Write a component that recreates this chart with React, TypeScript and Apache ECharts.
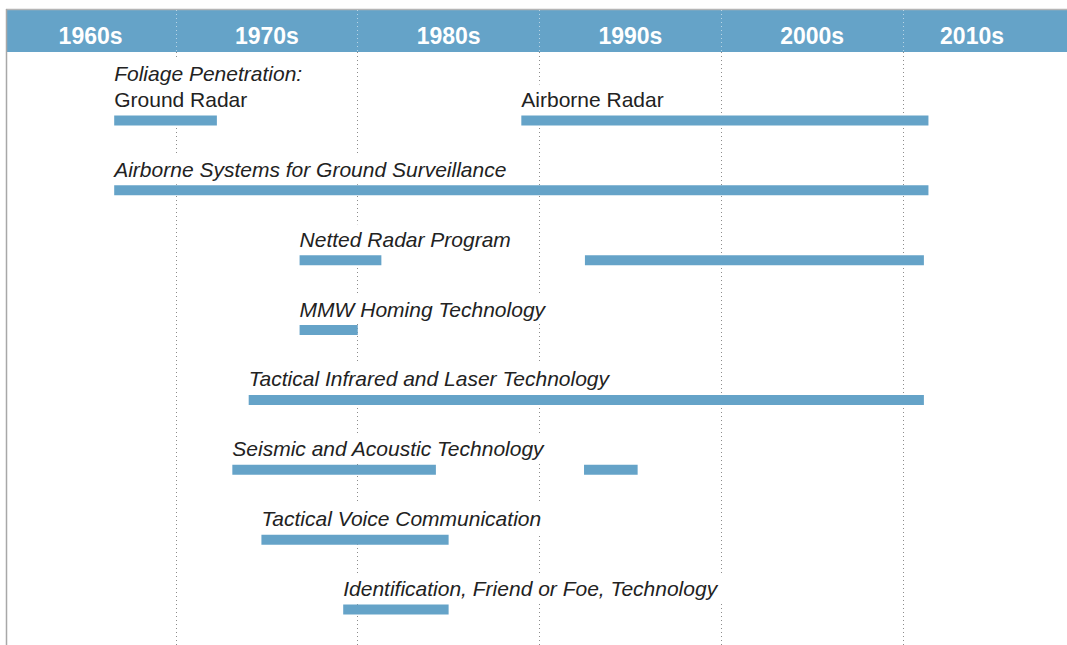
import React, { useEffect, useRef } from 'react';
import * as echarts from 'echarts';

const BLUE = '#65a3c8';
const FONT = '"Liberation Sans", Arial, Helvetica, sans-serif';

const decadeLabels = ['1960s', '1970s', '1980s', '1990s', '2000s', '2010s'];
const decadeLabelPos = [1965.3, 1975, 1985, 1995, 2005, 2013.8];

const rowNames = [
  'Foliage Penetration',
  'Airborne Systems for Ground Surveillance',
  'Netted Radar Program',
  'MMW Homing Technology',
  'Tactical Infrared and Laser Technology',
  'Seismic and Acoustic Technology',
  'Tactical Voice Communication',
  'Identification, Friend or Foe, Technology',
];

const segRow = [0, 0, 1, 2, 2, 3, 4, 5, 5, 6, 7];
const segStart = [1966.6, 1989.0, 1966.6, 1976.8, 1992.5, 1976.8, 1974.0, 1973.1, 1992.45, 1974.7, 1979.2];
const segEnd = [1972.25, 2011.4, 2011.4, 1981.3, 2011.15, 1980.0, 2011.15, 1984.3, 1995.4, 1985.0, 1985.0];
const segHeading = ['Foliage Penetration:', '', '', '', '', '', '', '', '', '', ''];
const segLabel = [
  'Ground Radar',
  'Airborne Radar',
  'Airborne Systems for Ground Surveillance',
  'Netted Radar Program',
  '',
  'MMW Homing Technology',
  'Tactical Infrared and Laser Technology',
  'Seismic and Acoustic Technology',
  '',
  'Tactical Voice Communication',
  'Identification, Friend or Foe, Technology',
];
const segItalic = [false, false, true, true, false, true, true, true, false, true, true];

const X_MIN = 1960;
const X_MAX = 2020;

export default function App() {
  const ref = useRef<HTMLDivElement>(null);

  useEffect(() => {
    if (!ref.current) return;
    const chart = echarts.init(ref.current, undefined, { renderer: 'svg' });

    const data = segStart.map((s, i) => [s, segEnd[i], segRow[i]]);
    const richStyles = {
      it: { font: `italic 21px ${FONT}`, fill: '#222', lineHeight: 26 },
      rm: { font: `normal 21px ${FONT}`, fill: '#222', lineHeight: 26 },
    };

    const gridLeft = -5.76;
    const gridRight = -17.75;
    const gridBase = { left: gridLeft, right: gridRight, outerBoundsMode: 'none', containLabel: false };

    const option: any = {
      animation: false,
      graphic: {
        elements: [
          { type: 'rect', z: -1, silent: true, shape: { x: 7, y: 10, width: 1060, height: 42 }, style: { fill: BLUE } },
          { type: 'line', silent: true, shape: { x1: 6, y1: 9.5, x2: 1067, y2: 9.5 }, style: { stroke: '#b5b5b5', lineWidth: 1.5 } },
          { type: 'line', silent: true, shape: { x1: 6.5, y1: 9, x2: 6.5, y2: 645 }, style: { stroke: '#a8a8a8', lineWidth: 1.5 } },
        ],
      },
      grid: [
        { ...gridBase, top: 52, bottom: 0 },
        { ...gridBase, top: 10, height: 42 },
        { ...gridBase, top: 85.5, bottom: 0.5 },
      ],
      xAxis: [
        {
          gridIndex: 0,
          type: 'value',
          min: X_MIN,
          max: X_MAX,
          interval: 10,
          position: 'top',
          axisLine: { show: false },
          axisTick: { show: false },
          axisLabel: {
            customValues: decadeLabelPos,
            formatter: (v: number) => {
              const idx = decadeLabelPos.indexOf(v);
              return idx >= 0 ? decadeLabels[idx] : '';
            },
            color: '#fff',
            fontWeight: 'bold',
            fontSize: 23,
            fontFamily: FONT,
            margin: 5,
          },
          splitLine: { show: true, lineStyle: { color: '#8c8c8c', type: [1, 3], width: 1 } },
        },
        {
          gridIndex: 1,
          type: 'value',
          min: X_MIN,
          max: X_MAX,
          interval: 10,
          z: 5,
          axisLine: { show: false },
          axisTick: { show: false },
          axisLabel: { show: false },
          splitLine: { show: true, lineStyle: { color: 'rgba(255,255,255,0.55)', type: [1, 3], width: 1 } },
        },
        { gridIndex: 2, type: 'value', min: X_MIN, max: X_MAX, show: false },
      ],
      yAxis: [
        { gridIndex: 0, type: 'value', show: false },
        { gridIndex: 1, type: 'value', show: false },
        { gridIndex: 2, type: 'category', data: rowNames, inverse: true, show: false },
      ],
      series: [
        {
          type: 'custom',
          xAxisIndex: 2,
          yAxisIndex: 2,
          data,
          encode: { x: [0, 1], y: 2 },
          renderItem: (params: any, api: any) => {
            const i = params.dataIndex;
            const p0 = api.coord([api.value(0), api.value(2)]);
            const p1 = api.coord([api.value(1), api.value(2)]);
            const h = 10;
            const top = p0[1] - h / 2;
            const children: any[] = [];
            if (segLabel[i]) {
              let txt = '';
              if (segHeading[i]) txt += `{it|${segHeading[i]}}\n`;
              txt += `{${segItalic[i] ? 'it' : 'rm'}|${segLabel[i]}}`;
              children.push({
                type: 'text',
                x: p0[0],
                y: top - 1,
                style: {
                  text: txt,
                  rich: richStyles,
                  align: 'left',
                  verticalAlign: 'bottom',
                  backgroundColor: '#fff',
                  padding: [2, 6, 2, 0],
                },
              });
            }
            children.push({
              type: 'rect',
              shape: { x: p0[0], y: top, width: p1[0] - p0[0], height: h },
              style: { fill: BLUE },
            });
            return { type: 'group', children };
          },
        },
      ],
    };

    chart.setOption(option);
    return () => chart.dispose();
  }, []);

  return (
    <div
      ref={ref}
      style={{ position: 'absolute', left: 0, top: 0, width: 1067, height: 645, background: '#fff' }}
    />
  );
}
